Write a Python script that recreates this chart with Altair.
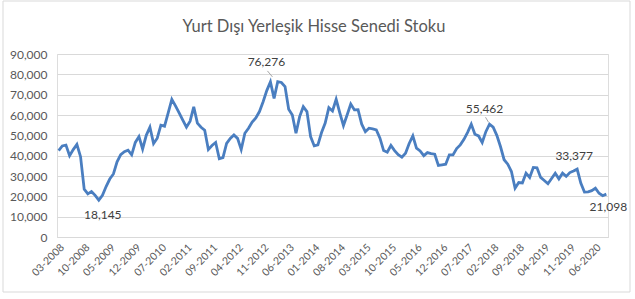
import altair as alt
import pandas as pd

# Monthly categories 03-2008 ... 09-2020
months = [f"{(2 + i) % 12 + 1:02d}-{2008 + (2 + i) // 12}" for i in range(151)]

stock = [
    42500, 44800, 45200, 40000, 43000, 45500, 39500, 23500, 21200, 22400,
    20500, 18145, 20500, 24800, 28500, 31000, 37000, 40500, 42000, 42700,
    40400, 46500, 49400, 43300, 50000, 54000, 46000, 48600, 55000, 54500,
    61000, 67700, 64500, 61000, 57500, 54000, 57000, 64000, 56000, 54000,
    52500, 43000, 45000, 46500, 38500, 39000, 46000, 48500, 50200, 48500,
    43000, 51000, 53500, 56500, 58500, 61700, 66500, 72000, 76276, 68200,
    76400, 76000, 74000, 62800, 60000, 51000, 59200, 64100, 61700, 49400,
    44800, 45300, 51400, 56000, 63600, 62000, 67700, 61000, 54800, 60000,
    65400, 62500, 62600, 55500, 51800, 53500, 53200, 52700, 48600, 42500,
    41700, 45000, 42500, 40500, 39300, 41200, 46000, 49700, 43700, 42300,
    40000, 41500, 41000, 40700, 35200, 35500, 35800, 40400, 40400, 43500,
    45300, 48000, 51500, 55500, 50500, 49700, 46500, 51800, 55462, 54000,
    50000, 44500, 38000, 35800, 32200, 24000, 26800, 26600, 31400, 29300,
    34200, 34000, 29300, 27800, 26200, 28800, 31400, 28600, 31400, 29800,
    31700, 32500, 33377, 26500, 22100, 22200, 22800, 24000, 21500, 20300,
    21098,
]

tick_labels = months[::7]
y_ticks = [0, 10000, 20000, 30000, 40000, 50000, 60000, 70000, 80000, 90000]
title_text = "Yurt Dışı Yerleşik Hisse Senedi Stoku"

# index of labelled points and label offsets (dx, dy)
label_idx = [11, 58, 118, 142, 150]
label_dx = [4, -4, -5, -3, 2]
label_dy = [15, -20, -15, -13, 13]

df = pd.DataFrame({"month": months, "value": stock, "idx": list(range(len(months)))})

FONT = "Lato"
GREY = "#595959"
BLUE = "#4A7EC0"

x_enc = alt.X(
    "month:O",
    sort=months,
    scale=alt.Scale(type="point", padding=0.45),
    axis=alt.Axis(
        values=tick_labels,
        labelAngle=-45,
        labelFont=FONT,
        labelFontSize=10.5,
        labelColor=GREY,
        labelPadding=5,
        ticks=False,
        domainColor="#D9D9D9",
        title=None,
        grid=False,
    ),
)
y_enc = alt.Y(
    "value:Q",
    scale=alt.Scale(domain=[0, 90000], nice=False),
    axis=alt.Axis(
        values=y_ticks,
        format=",.0f",
        labelFont=FONT,
        labelFontSize=12,
        labelColor=GREY,
        labelPadding=10,
        ticks=False,
        domain=False,
        gridColor="#D9D9D9",
        title=None,
    ),
)

base = alt.Chart(df)

line = base.mark_line(color=BLUE, strokeWidth=2.8).encode(x=x_enc, y=y_enc)

layers = [line]
for i, dx, dy in zip(label_idx, label_dx, label_dy):
    t = (
        base.transform_filter(alt.datum.idx == i)
        .mark_text(font=FONT, fontSize=12, color="#404040", dx=dx, dy=dy,
                   align="center", baseline="middle")
        .encode(x=x_enc, y=y_enc, text=alt.Text("value:Q", format=",.0f"))
    )
    layers.append(t)

# leader lines for two labels
for i, xo, x2o, yo, y2o in [(58, -3, 2, -11, -5), (118, -4, -1, -7, -2)]:
    r = (
        base.transform_filter(alt.datum.idx == i)
        .mark_rule(color="#A6A6A6", strokeWidth=1,
                   xOffset=xo, x2Offset=x2o, yOffset=yo, y2Offset=y2o)
        .encode(x=x_enc, x2="month:O", y=y_enc, y2="value:Q")
    )
    layers.append(r)

one = alt.Data(values=[{"a": 1}])
border = alt.Chart(one).mark_rect(
    fill="transparent", stroke="#D9D9D9", strokeWidth=1
).encode(x=alt.value(-54), x2=alt.value(573), y=alt.value(-53), y2=alt.value(238))

title = alt.Chart(one).mark_text(
    text=title_text, font=FONT, fontSize=16.5, color=GREY,
    align="center", baseline="middle"
).encode(x=alt.value(257), y=alt.value(-27))

chart = (
    alt.layer(border, title, *layers)
    .properties(
        width=551,
        height=183,
        padding={"left": 57, "top": 54, "right": 27, "bottom": 62},
        autosize=alt.AutoSizeParams(type="none"),
    )
    .configure_view(stroke=None)
    .configure(background="white")
)

chart.save("out.html", embed_options={"renderer": "svg", "actions": False})
